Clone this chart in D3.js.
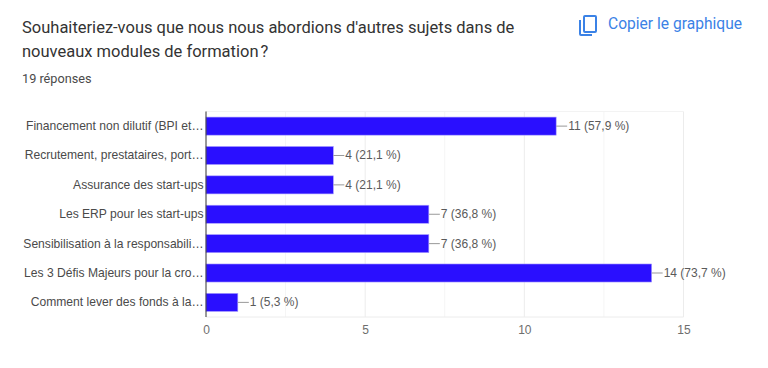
<!DOCTYPE html>
<html>
<head>
<meta charset="utf-8">
<script src="https://cdn.jsdelivr.net/npm/d3@7"></script>
<style>
  html, body { margin: 0; padding: 0; background: #fff; }
  .title { font-family: Roboto, sans-serif; font-size: 16.5px; fill: #333; }
  .sub { font-family: Roboto, sans-serif; font-size: 12.7px; fill: #4a4a4a; }
  .copy { font-family: Roboto, sans-serif; font-size: 15.6px; fill: #3b82e6; }
  .lab { font-family: "Liberation Sans", Arial, sans-serif; font-size: 12.1px; fill: #4a4a4a; }
  .val { font-family: "Liberation Sans", Arial, sans-serif; font-size: 12px; fill: #5a5a5a; }
  .tick text { font-family: "Liberation Sans", Arial, sans-serif; font-size: 12px; fill: #6e6e6e; }
</style>
</head>
<body>
<div id="chart"></div>
<script>
const categories = [
    "Financement non dilutif (BPI et\u2026",
    "Recrutement, prestataires, port\u2026",
    "Assurance des start-ups",
    "Les ERP pour les start-ups",
    "Sensibilisation \u00e0 la responsabili\u2026",
    "Les 3 D\u00e9fis Majeurs pour la cro\u2026",
    "Comment lever des fonds \u00e0 la\u2026"
];
const counts = [11, 4, 4, 7, 7, 14, 1];
const percents = ["57,9", "21,1", "21,1", "36,8", "36,8", "73,7", "5,3"];
const majorTicks = [0, 5, 10, 15];
const minorTicks = [2.5, 7.5, 12.5];

const svg = d3.select("#chart").append("svg")
    .attr("width", 768)
    .attr("height", 368)
    .style("display", "block");

// header
svg.append("text").attr("class", "title").attr("x", 22).attr("y", 33)
    .text("Souhaiteriez-vous que nous nous abordions d'autres sujets dans de");
svg.append("text").attr("class", "title").attr("x", 22).attr("y", 57)
    .text("nouveaux modules de formation\u202f?");
svg.append("text").attr("class", "sub").attr("x", 22).attr("y", 83).text("19 r\u00e9ponses");

// copy icon
const icon = svg.append("g").attr("transform", "translate(579, 15)")
    .attr("fill", "none").attr("stroke", "#3b82e6").attr("stroke-width", 2);
icon.append("rect").attr("x", 5).attr("y", 1).attr("width", 12).attr("height", 16).attr("rx", 1);
icon.append("path").attr("d", "M1 5V19a1 1 0 0 0 1 1H13");
svg.append("text").attr("class", "copy").attr("x", 608).attr("y", 29).text("Copier le graphique");

// scales
const x = d3.scaleLinear().domain([0, 15]).range([206, 683.5]);
const y = d3.scaleBand().domain(categories).range([111.5, 317]).paddingInner(0.385).paddingOuter(0.19);

// grid
svg.append("g").selectAll("line").data(minorTicks).join("line")
    .attr("x1", d => x(d)).attr("x2", d => x(d))
    .attr("y1", y.range()[0]).attr("y2", y.range()[1])
    .attr("stroke", "#f5f5f5");
svg.append("g").selectAll("line").data(majorTicks.slice(1)).join("line")
    .attr("x1", d => x(d)).attr("x2", d => x(d))
    .attr("y1", y.range()[0]).attr("y2", y.range()[1])
    .attr("stroke", "#ececec");
svg.append("line").attr("x1", x(0)).attr("x2", x(15))
    .attr("y1", y.range()[0]).attr("y2", y.range()[0]).attr("stroke", "#f3f3f3");
svg.append("line").attr("x1", x(0)).attr("x2", x(15))
    .attr("y1", y.range()[1]).attr("y2", y.range()[1]).attr("stroke", "#ececec");

// bars
svg.append("g").selectAll("rect").data(categories).join("rect")
    .attr("x", x(0))
    .attr("y", d => y(d))
    .attr("width", (d, i) => x(counts[i]) - x(0))
    .attr("height", y.bandwidth())
    .attr("fill", "#2a0fff")
    .attr("stroke", "#a99fff")
    .attr("stroke-width", 0.6);

// value labels with leader
svg.append("g").selectAll("line").data(categories).join("line")
    .attr("x1", (d, i) => x(counts[i]))
    .attr("x2", (d, i) => x(counts[i]) + 11)
    .attr("y1", d => y(d) + y.bandwidth() / 2)
    .attr("y2", d => y(d) + y.bandwidth() / 2)
    .attr("stroke", "#999");
svg.append("g").selectAll("text").data(categories).join("text")
    .attr("class", "val")
    .attr("x", (d, i) => x(counts[i]) + 12)
    .attr("y", d => y(d) + y.bandwidth() / 2 + 4)
    .text((d, i) => `${counts[i]} (${percents[i]} %)`);

// category labels
svg.append("g").selectAll("text").data(categories).join("text")
    .attr("class", "lab")
    .attr("x", 203.5)
    .attr("y", d => y(d) + y.bandwidth() / 2 + 4)
    .attr("text-anchor", "end")
    .text(d => d);

// baseline
svg.append("line").attr("x1", x(0)).attr("x2", x(0))
    .attr("y1", y.range()[0]).attr("y2", y.range()[1])
    .attr("stroke", "#333").attr("stroke-width", 1);

// x axis
const xAxis = d3.axisBottom(x).tickValues(majorTicks).tickSize(0).tickPadding(0);
svg.append("g").attr("transform", "translate(0, 325)").call(xAxis)
    .call(g => g.select(".domain").remove());
</script>
</body>
</html>
